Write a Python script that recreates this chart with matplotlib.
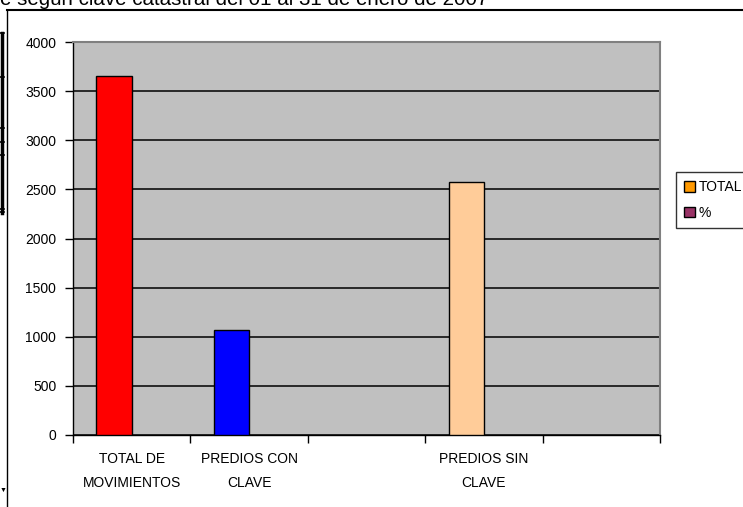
import matplotlib
matplotlib.use("Agg")
import matplotlib.pyplot as plt
import numpy as np
from matplotlib.patches import Rectangle
from matplotlib.lines import Line2D

plt.rcParams['font.family'] = ['Liberation Sans', 'DejaVu Sans']

# Data
categories = ["TOTAL DE\nMOVIMIENTOS", "PREDIOS CON\nCLAVE", "", "PREDIOS SIN\nCLAVE", ""]
total_values = [3650, 1070, np.nan, 2580, np.nan]
pct_values = [1.0, 0.29, np.nan, 0.71, np.nan]
bar_colors = ["#FF0000", "#0000FF", "#FF9900", "#FFCC99", "#FF9900"]
series_names = ["TOTAL", "%"]
legend_colors = ["#FF9900", "#993366"]
title_text = "e según clave catastral del 01 al 31 de enero de 2007"
y_ticks = [0, 500, 1000, 1500, 2000, 2500, 3000, 3500, 4000]

W, H = 743, 507
fig = plt.figure(figsize=(W / 100, H / 100), dpi=100)

def fx(px):
    return px / W

def fy(py):
    return 1 - py / H

ax = fig.add_axes([fx(73), fy(435), fx(660) - fx(73), fy(42) - fy(435)])
ax.set_facecolor("#C0C0C0")

x = np.arange(len(categories))
bw = 0.3
ax.bar(x - bw / 2, total_values, width=bw, color=bar_colors,
       edgecolor="black", linewidth=1.0, zorder=3)
ax.bar(x + bw / 2, pct_values, width=bw, color=legend_colors[1],
       edgecolor="black", linewidth=0.0, zorder=3)

ax.set_xlim(-0.5, len(categories) - 0.5)
ax.set_ylim(0, 4000)
ax.set_yticks(y_ticks)
ax.set_yticklabels([str(v) for v in y_ticks], fontsize=10)
ax.yaxis.grid(True, color="black", linewidth=1.1, zorder=1)
ax.set_axisbelow(True)

# category boundaries carry the tick marks, labels sit in the middle
ax.set_xticks(np.arange(-0.5, len(categories), 1.0))
ax.set_xticklabels([])
ax.set_xticks(x, minor=True)
ax.set_xticklabels(categories, minor=True, fontsize=10, linespacing=1.9)
ax.tick_params(axis="x", which="minor", length=0, pad=12)
ax.tick_params(axis="x", which="major", length=6, width=1, color="black", direction="out")
ax.tick_params(axis="y", length=6, width=1, color="black", direction="out", pad=6)

for side in ("top", "right"):
    ax.spines[side].set_color("#808080")
    ax.spines[side].set_linewidth(1.5)
for side in ("left", "bottom"):
    ax.spines[side].set_color("black")
    ax.spines[side].set_linewidth(1.0)

# legend
handles = [Rectangle((0, 0), 1, 1, facecolor=c, edgecolor="black", linewidth=1.0)
           for c in legend_colors]
leg = fig.legend(handles, series_names, loc="upper left",
                 bbox_to_anchor=(fx(676), fy(172)), fontsize=10,
                 frameon=True, fancybox=False, handlelength=0.75, handleheight=0.75,
                 handletextpad=0.3, labelspacing=0.85, borderpad=0.6, borderaxespad=0)
leg.get_frame().set_edgecolor("black")
leg.get_frame().set_linewidth(1.0)

# chart border
fig.add_artist(Line2D([fx(7), fx(7)], [fy(10), 0], color="black", linewidth=1.0))
fig.add_artist(Line2D([fx(7), 1], [fy(10), fy(10)], color="black", linewidth=1.5))

# neighbouring table edge on the left
fig.add_artist(Line2D([fx(1.5), fx(1.5)], [fy(33), fy(213)], color="black", linewidth=2.5))
for yy in [33, 77, 128, 142, 155, 209, 212]:
    fig.add_artist(Line2D([0, fx(4)], [fy(yy), fy(yy)], color="black", linewidth=1.2))
fig.text(0, fy(490), "▼", fontsize=5, va="center", ha="left")

# heading, cut at the top edge
fig.text(0, fy(5), title_text, fontsize=14.8, va="baseline", ha="left")

fig.savefig("out.png", dpi=100)
